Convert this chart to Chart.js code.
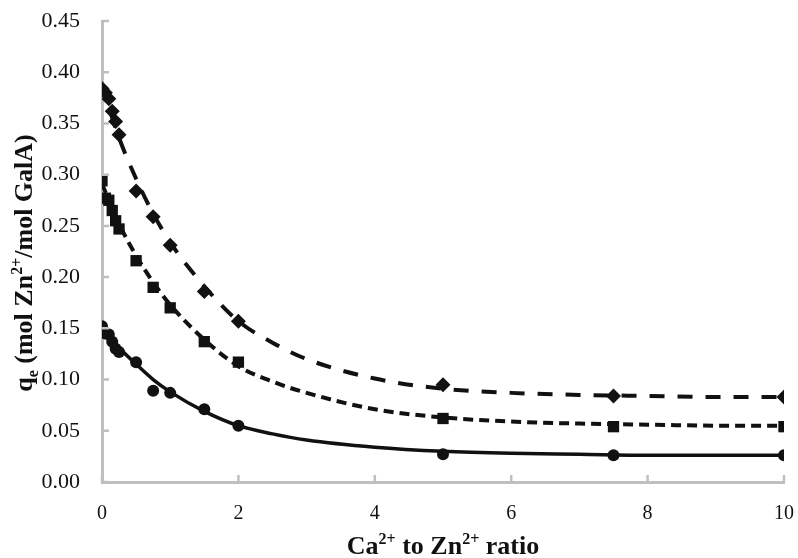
<!DOCTYPE html>
<html lang="en">
<head>
    <meta charset="UTF-8">
    <title>Zn2+ uptake vs Ca2+ ratio</title>
    <script src="https://cdn.jsdelivr.net/npm/chart.js"></script>
    <style>
        body {
            margin: 0;
            padding: 0;
            background: #ffffff;
        }
        canvas {
            display: block;
        }
    </style>
</head>
<body>
    <canvas id="qeChart" width="798" height="558"></canvas>

    <script>
        // Ca2+ : Zn2+ molar ratios used in the experiments
        const ratios = [0, 0.05, 0.1, 0.15, 0.2, 0.25, 0.5, 0.75, 1, 1.5, 2, 5, 7.5, 10];

        // measured qe (mol Zn2+/mol GalA), three series
        const qeDiamond = [0.384, 0.380, 0.374, 0.362, 0.352, 0.339, 0.284, 0.259, 0.231, 0.186, 0.157, 0.095, 0.084, 0.083];
        const qeSquare  = [0.294, 0.277, 0.275, 0.265, 0.255, 0.247, 0.216, 0.190, 0.170, 0.137, 0.117, 0.062, 0.054, 0.054];
        const qeCircle  = [0.152, 0.145, 0.144, 0.137, 0.130, 0.127, 0.117, 0.089, 0.087, 0.071, 0.055, 0.027, 0.026, 0.026];

        // fitted trend lines, sampled along the ratio axis
        const fitX       = [0, 0.25, 0.5, 0.75, 1, 1.5, 2, 2.5, 3, 4, 5, 6, 7, 8, 9, 10];
        const fitDiamond = [0.386, 0.336, 0.296, 0.262, 0.234, 0.191, 0.157, 0.136, 0.120, 0.101, 0.091, 0.087, 0.085, 0.084, 0.083, 0.083];
        const fitSquare  = [0.291, 0.252, 0.221, 0.195, 0.173, 0.139, 0.113, 0.098, 0.087, 0.071, 0.063, 0.059, 0.057, 0.056, 0.055, 0.055];
        const fitCircle  = [0.150, 0.131, 0.115, 0.100, 0.088, 0.069, 0.055, 0.047, 0.041, 0.034, 0.030, 0.028, 0.027, 0.026, 0.026, 0.026];

        const xTicks = [0, 2, 4, 6, 8, 10];

        const ink = '#111111';
        const axisGray = '#bfbfbf';
        const serif = '"Liberation Serif", "Times New Roman", serif';

        function toPoints(xs, ys) {
            return xs.map((x, i) => ({ x: x, y: ys[i] }));
        }

        function fitLine(ys, dash, width) {
            return {
                data: toPoints(fitX, ys),
                showLine: true,
                borderColor: ink,
                borderWidth: width,
                borderDash: dash,
                pointRadius: 0,
                cubicInterpolationMode: 'monotone',
                order: 2
            };
        }

        function markers(ys, style, radius) {
            return {
                data: toPoints(ratios, ys),
                showLine: false,
                pointStyle: style,
                pointRadius: radius,
                pointBackgroundColor: ink,
                pointBorderColor: ink,
                pointBorderWidth: 0,
                order: 1
            };
        }

        // draws a run of text pieces, some raised or lowered, centred on 0
        function drawRich(ctx, parts) {
            const big = 'bold 26px ' + serif;
            const small = 'bold 16px ' + serif;
            let total = 0;
            parts.forEach(p => {
                ctx.font = p.sup || p.sub ? small : big;
                p.w = ctx.measureText(p.t).width;
                total += p.w;
            });
            let x = -total / 2;
            parts.forEach(p => {
                ctx.font = p.sup || p.sub ? small : big;
                const dy = p.sup ? -10 : (p.sub ? 6 : 0);
                ctx.fillText(p.t, x, dy);
                x += p.w;
            });
        }

        // axis titles with super/subscripts and inward tick marks
        const axisDecor = {
            id: 'axisDecor',
            afterDraw(chart) {
                const ctx = chart.ctx;
                const xs = chart.scales.x;
                const ys = chart.scales.y;
                const area = chart.chartArea;

                ctx.save();
                ctx.strokeStyle = axisGray;
                ctx.lineWidth = 2.5;
                ctx.beginPath();
                xTicks.forEach(v => {
                    const px = xs.getPixelForValue(v);
                    ctx.moveTo(px, area.bottom);
                    ctx.lineTo(px, area.bottom - 7);
                });
                ys.ticks.forEach(t => {
                    const py = ys.getPixelForValue(t.value);
                    ctx.moveTo(area.left, py);
                    ctx.lineTo(area.left + 7, py);
                });
                ctx.stroke();

                ctx.fillStyle = ink;
                ctx.textBaseline = 'alphabetic';
                ctx.textAlign = 'left';

                ctx.save();
                ctx.translate(443, 554);
                drawRich(ctx, [
                    { t: 'Ca' }, { t: '2+', sup: true },
                    { t: ' to Zn' }, { t: '2+', sup: true },
                    { t: ' ratio' }
                ]);
                ctx.restore();

                ctx.save();
                ctx.translate(32, 263);
                ctx.rotate(-Math.PI / 2);
                drawRich(ctx, [
                    { t: 'q' }, { t: 'e', sub: true },
                    { t: ' (mol Zn' }, { t: '2+', sup: true },
                    { t: '/mol GalA)' }
                ]);
                ctx.restore();

                ctx.restore();
            }
        };

        const ctx = document.getElementById('qeChart').getContext('2d');
        const qeChart = new Chart(ctx, {
            type: 'scatter',
            data: {
                datasets: [
                    fitLine(fitDiamond, [15, 13], 4),
                    fitLine(fitSquare, [10, 6], 4),
                    fitLine(fitCircle, [], 3.5),
                    markers(qeDiamond, 'rectRot', 7.5),
                    markers(qeSquare, 'rect', 8),
                    markers(qeCircle, 'circle', 6)
                ]
            },
            options: {
                responsive: false,
                animation: false,
                layout: {
                    padding: { left: 0, right: 14, top: 21, bottom: 0 }
                },
                plugins: {
                    legend: { display: false },
                    tooltip: { enabled: false }
                },
                scales: {
                    x: {
                        type: 'linear',
                        min: 0,
                        max: 10,
                        afterFit(scale) {
                            scale.height = 76;
                            scale.paddingLeft = 0;
                            scale.paddingRight = 0;
                        },
                        afterBuildTicks(scale) {
                            scale.ticks = xTicks.map(v => ({ value: v }));
                        },
                        grid: { display: false, drawTicks: false },
                        border: { display: true, color: axisGray, width: 3 },
                        ticks: {
                            color: ink,
                            padding: 20,
                            maxRotation: 0,
                            font: { family: serif, size: 20 }
                        }
                    },
                    y: {
                        min: 0,
                        max: 0.45,
                        afterFit(scale) {
                            scale.width = 102;
                            scale.paddingTop = 0;
                            scale.paddingBottom = 0;
                        },
                        grid: { display: false, drawTicks: false },
                        border: { display: true, color: axisGray, width: 3 },
                        ticks: {
                            stepSize: 0.05,
                            color: ink,
                            padding: 22,
                            font: { family: serif, size: 22 },
                            callback: v => v.toFixed(2)
                        }
                    }
                }
            },
            plugins: [axisDecor]
        });
    </script>
</body>
</html>
